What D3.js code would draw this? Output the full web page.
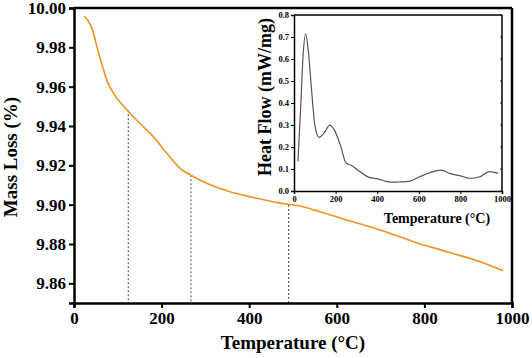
<!DOCTYPE html>
<html>
<head>
<meta charset="utf-8">
<script src="https://cdn.jsdelivr.net/npm/d3@7"></script>
<style>
  body { margin: 0; background: #fff; }
  svg text { font-family: "Liberation Serif", "Times New Roman", serif !important; font-weight: bold; fill: #000; }
</style>
</head>
<body>
<div id="chart"></div>
<script>
// TGA curve (main)
var tgaTemp = [23, 32, 42, 53, 65, 76, 91, 120, 152, 181, 212, 242, 266, 303, 356, 409, 470, 516, 562, 623, 699, 775, 851, 927, 980];
var tgaMass = [9.9958, 9.9936, 9.9890, 9.9797, 9.9704, 9.9627, 9.9563, 9.9484, 9.9410, 9.9346, 9.9261, 9.9185, 9.9151, 9.9109, 9.9066, 9.9037, 9.9008, 9.8993, 9.8964, 9.8922, 9.8871, 9.8812, 9.8761, 9.8710, 9.8664];

// dashed markers
var markTemp = [124, 267, 490];
var markMass = [9.9480, 9.9149, 9.8998];

// DSC curve (inset)
var dscTemp = [19, 32, 43, 56, 69, 85, 101, 121, 145, 172, 193, 225, 250, 274, 314, 362, 403, 443, 480, 507, 556, 604, 652, 709, 749, 797, 845, 894, 939, 982];
var dscHeat = [0.135, 0.377, 0.605, 0.714, 0.635, 0.453, 0.294, 0.244, 0.264, 0.299, 0.279, 0.203, 0.127, 0.117, 0.090, 0.062, 0.055, 0.044, 0.040, 0.041, 0.045, 0.065, 0.083, 0.095, 0.080, 0.070, 0.058, 0.065, 0.088, 0.080];

var xTicks = [0, 200, 400, 600, 800, 1000];
var yTicks = [9.86, 9.88, 9.90, 9.92, 9.94, 9.96, 9.98, 10.00];
var insetYTicks = [0, 0.1, 0.2, 0.3, 0.4, 0.5, 0.6, 0.7, 0.8];

var W = 532, H = 358;
var margin = {top: 8, right: 20, bottom: 55, left: 74};
var width = W - margin.left - margin.right,
    height = H - margin.top - margin.bottom;

var svg = d3.select("#chart").append("svg")
    .attr("width", W).attr("height", H);
var g = svg.append("g")
    .attr("transform", "translate(" + margin.left + "," + margin.top + ")");

var x = d3.scaleLinear().domain([0, 1000]).range([0, width]);
var y = d3.scaleLinear().domain([9.85, 10.00]).range([height, 0]);

// dashed guides
g.append("g").selectAll("line")
  .data(markTemp)
  .enter().append("line")
    .attr("x1", d => x(d)).attr("x2", d => x(d))
    .attr("y1", (d, i) => y(markMass[i])).attr("y2", height)
    .attr("stroke", "#555").attr("stroke-width", 1.1)
    .attr("stroke-dasharray", "2,2");

// main curve
var tga = tgaTemp.map((t, i) => [t, tgaMass[i]]);
g.append("path")
  .datum(tga)
  .attr("fill", "none")
  .attr("stroke", "#ee9324")
  .attr("stroke-width", 1.6)
  .attr("d", d3.line().x(d => x(d[0])).y(d => y(d[1])).curve(d3.curveMonotoneX));

// axes
var xAxis = g.append("g")
  .attr("transform", "translate(0," + height + ")")
  .call(d3.axisBottom(x).tickValues(xTicks).tickFormat(d3.format("d")).tickSize(5).tickPadding(4));
var yAxis = g.append("g")
  .call(d3.axisLeft(y).tickValues(yTicks).tickFormat(d3.format(".2f")).tickSize(5).tickPadding(3));
[xAxis, yAxis].forEach(a => {
  a.attr("font-family", null).attr("font-size", null);
  a.select(".domain").attr("stroke-width", 2.5);
  a.selectAll(".tick line").attr("stroke-width", 2);
  a.selectAll("text").attr("font-size", 17).attr("font-weight", "bold");
});

// frame top/right
g.append("line").attr("x1", 0).attr("x2", width).attr("y1", 0).attr("y2", 0)
  .attr("stroke", "#000").attr("stroke-width", 2.5);
g.append("line").attr("x1", width).attr("x2", width).attr("y1", 0).attr("y2", height)
  .attr("stroke", "#000").attr("stroke-width", 2.5);

// axis titles
svg.append("text")
  .attr("x", margin.left + width / 2).attr("y", 349)
  .attr("text-anchor", "middle").attr("font-size", 19)
  .text("Temperature (°C)");
svg.append("text")
  .attr("transform", "translate(17," + 157 + ") rotate(-90)")
  .attr("text-anchor", "middle").attr("font-size", 19)
  .text("Mass Loss (%)");

// ---- inset ----
var inset = {left: 294, top: 15, right: 502, bottom: 191};
var ig = svg.append("g").attr("transform", "translate(" + inset.left + "," + inset.top + ")");
var iw = inset.right - inset.left, ih = inset.bottom - inset.top;

var ix = d3.scaleLinear().domain([0, 1000]).range([0, iw]);
var iy = d3.scaleLinear().domain([0, 0.8]).range([ih, 0]);

ig.append("rect").attr("width", iw).attr("height", ih).attr("fill", "#fff");

var dsc = dscTemp.map((t, i) => [t, dscHeat[i]]);
ig.append("path")
  .datum(dsc)
  .attr("fill", "none")
  .attr("stroke", "#555")
  .attr("stroke-width", 1.2)
  .attr("d", d3.line().x(d => ix(d[0])).y(d => iy(d[1])).curve(d3.curveMonotoneX));

var ixAxis = ig.append("g")
  .attr("transform", "translate(0," + ih + ")")
  .call(d3.axisBottom(ix).tickValues(xTicks).tickFormat(d3.format("d")).tickSize(3).tickPadding(2));
var iyAxis = ig.append("g")
  .call(d3.axisLeft(iy).tickValues(insetYTicks).tickFormat(d3.format(".1f")).tickSize(3).tickPadding(2));
[ixAxis, iyAxis].forEach(a => {
  a.attr("font-family", null).attr("font-size", null);
  a.select(".domain").attr("stroke-width", 1.5);
  a.selectAll("text").attr("font-size", 8.5).attr("font-weight", "bold");
});
// inset right ticks (inward)
ig.append("g").selectAll("line")
  .data(insetYTicks)
  .enter().append("line")
    .attr("x1", iw).attr("x2", iw - 2)
    .attr("y1", d => iy(d)).attr("y2", d => iy(d))
    .attr("stroke", "#000").attr("stroke-width", 0.8);

ig.append("line").attr("x1", 0).attr("x2", iw).attr("y1", 0).attr("y2", 0)
  .attr("stroke", "#000").attr("stroke-width", 1.5);
ig.append("line").attr("x1", iw).attr("x2", iw).attr("y1", 0).attr("y2", ih)
  .attr("stroke", "#000").attr("stroke-width", 1.5);

svg.append("text")
  .attr("x", 437).attr("y", 223)
  .attr("text-anchor", "middle").attr("font-size", 14)
  .text("Temperature (°C)");
svg.append("text")
  .attr("transform", "translate(271,97) rotate(-90)")
  .attr("text-anchor", "middle").attr("font-size", 18)
  .text("Heat Flow (mW/mg)");
</script>
</body>
</html>
